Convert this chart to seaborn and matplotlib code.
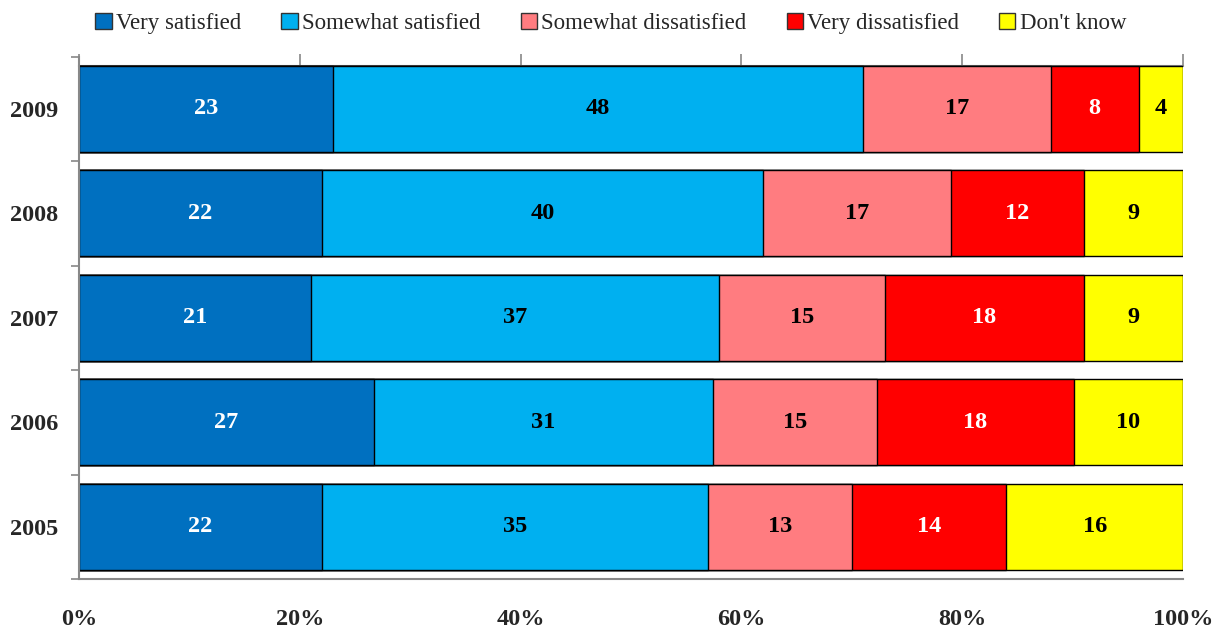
import numpy as np
import pandas as pd
import matplotlib
matplotlib.use('Agg')
import matplotlib.pyplot as plt
from matplotlib.patches import Patch
from matplotlib.ticker import PercentFormatter, FixedLocator
import seaborn as sns

# data
years = ['2009', '2008', '2007', '2006', '2005']
categories = ['Very satisfied', 'Somewhat satisfied', 'Somewhat dissatisfied',
              'Very dissatisfied', "Don't know"]
very_sat = [23, 22, 21, 27, 22]
some_sat = [48, 40, 37, 31, 35]
some_dis = [17, 17, 15, 15, 13]
very_dis = [8, 12, 18, 18, 14]
dont_know = [4, 9, 9, 10, 16]

colors = ['#0070C0', '#00B0F0', '#FF7C80', '#FF0000', '#FFFF00']
text_colors = ['white', 'black', 'black', 'white', 'black']

sns.set_style('white')
plt.rcParams['font.family'] = ['Liberation Serif', 'DejaVu Serif']

vals = np.array([very_sat, some_sat, some_dis, very_dis, dont_know], dtype=float)
totals = vals.sum(axis=0)
cum = np.cumsum(vals, axis=0) / totals * 100

fig = plt.figure(figsize=(12.22, 6.28), dpi=100)
ax = fig.add_axes([79 / 1222, 1 - 579 / 628, (1183 - 79) / 1222, (579 - 56.5) / 628])

# stacked bars: draw cumulative from the widest down
for i in range(len(categories) - 1, -1, -1):
    df = pd.DataFrame({'year': years, 'pct': cum[i]})
    sns.barplot(data=df, x='pct', y='year', orient='h', color=colors[i],
                width=0.82, edgecolor='black', linewidth=1.0, saturation=1, ax=ax)

# segment labels
for i in range(len(categories)):
    left = cum[i - 1] if i > 0 else np.zeros(len(years))
    for j in range(len(years)):
        ax.text((left[j] + cum[i][j]) / 2, j, f'{int(vals[i][j])}',
                ha='center', va='center', fontsize=17.5, fontweight='bold',
                color=text_colors[i])

ax.set_xlim(0, 100)
ax.set_ylim(4.5, -0.5)
ax.set_xlabel('')
ax.set_ylabel('')

ax.xaxis.set_major_locator(FixedLocator([0, 20, 40, 60, 80, 100]))
ax.xaxis.set_major_formatter(PercentFormatter(decimals=0))
ax.tick_params(axis='x', direction='inout', length=13, width=1.2, color='#888888',
               labelsize=17.5, pad=15)
for lab in ax.get_xticklabels():
    lab.set_fontweight('bold')

ax.yaxis.set_minor_locator(FixedLocator(np.arange(-0.5, 5, 1)))
ax.tick_params(axis='y', which='major', length=0, labelsize=17.5, pad=15)
ax.tick_params(axis='y', which='minor', direction='out', length=6, width=1.2,
               color='#888888', left=True)
for lab in ax.get_yticklabels():
    lab.set_fontweight('bold')

for side in ['left', 'bottom']:
    ax.spines[side].set_color('#888888')
    ax.spines[side].set_linewidth(1.5)
ax.spines['top'].set_visible(False)
ax.spines['right'].set_visible(False)

# the top axis line sits at the top edge of the first bar
sec = ax.secondary_xaxis((579 - 66) / (579 - 56.5))
sec.xaxis.set_major_locator(FixedLocator([0, 20, 40, 60, 80, 100]))
sec.tick_params(axis='x', direction='out', length=9, width=1.2, color='#888888',
                labeltop=False)
sec.spines['top'].set_color('#888888')
sec.spines['top'].set_linewidth(1.5)

handles = [Patch(facecolor=c, edgecolor='#333333', linewidth=1.0) for c in colors]
fig.legend(handles, categories, loc='upper center', bbox_to_anchor=(0.5, 1.0),
           ncol=5, frameon=False, fontsize=16.5, handlelength=0.7, handleheight=0.7,
           handletextpad=0.2, columnspacing=1.75, borderaxespad=0.15)

fig.savefig('out.png', dpi=100)
